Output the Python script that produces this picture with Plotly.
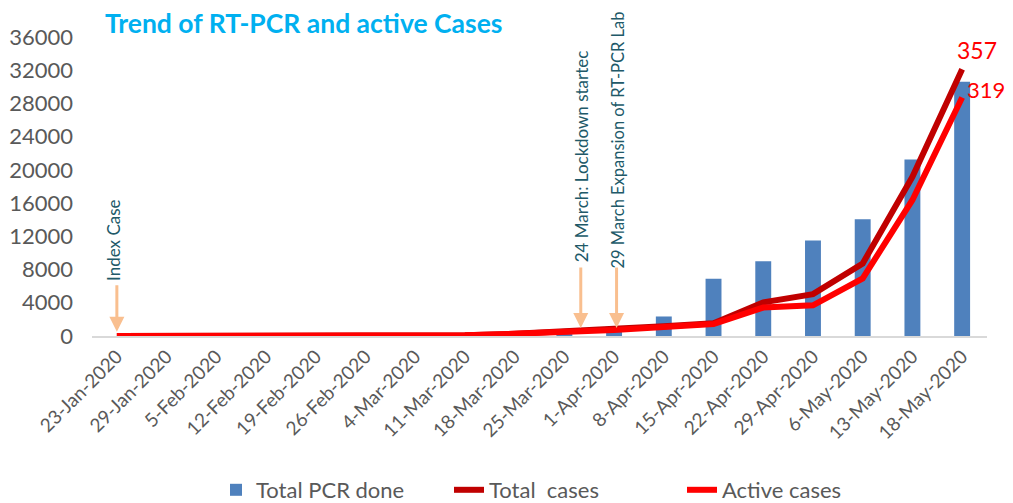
import plotly.graph_objects as go

categories = ["23-Jan-2020", "29-Jan-2020", "5-Feb-2020", "12-Feb-2020", "19-Feb-2020",
              "26-Feb-2020", "4-Mar-2020", "11-Mar-2020", "18-Mar-2020", "25-Mar-2020",
              "1-Apr-2020", "8-Apr-2020", "15-Apr-2020", "22-Apr-2020", "29-Apr-2020",
              "6-May-2020", "13-May-2020", "18-May-2020"]
pcr_done = [0, 0, 0, 0, 0, 0, 0, 50, 300, 600, 1100, 2350, 6900, 9000, 11500, 14050, 21250, 30600]
total_cases = [0, 0, 0, 0, 0, 0, 0, 1, 3, 6, 9, 13, 17, 45, 56, 97, 213, 357]
active_cases = [0, 0, 0, 0, 0, 0, 0, 1, 3, 5, 8, 12, 16, 38, 41, 77, 182, 319]
y_ticks = list(range(0, 36001, 4000))
y_tick_labels = [str(v) for v in y_ticks]

FONT = "Lato"
GREY = "#595959"
NOTE = "#215968"
PEACH = "#F9BF8F"

# the page places the figure 8px in from the top-left corner
OFF = 8
W, H = 1013 - OFF, 503 - OFF
plot_left, plot_right, plot_top, plot_bottom = 92 - OFF, 987 - OFF, 37 - OFF, 336 - OFF
ml, mr, mt, mb = plot_left, W - plot_right, plot_top, H - plot_bottom
pw, ph = W - ml - mr, H - mt - mb


def px_x(px):
    return (px - OFF - ml) / pw


def px_y(py):
    return (plot_bottom - (py - OFF)) / ph


fig = go.Figure()
fig.add_trace(go.Bar(x=categories, y=pcr_done, name="Total PCR done",
                     marker=dict(color="#4F81BD", line=dict(width=0))))
fig.add_trace(go.Scatter(x=categories, y=total_cases, name="Total  cases", yaxis="y2",
                         mode="lines", line=dict(color="#C00000", width=6)))
fig.add_trace(go.Scatter(x=categories, y=active_cases, name="Active cases", yaxis="y2",
                         mode="lines", line=dict(color="#FF0000", width=6)))

annotations = []
# arrows (no text)
for xi, tip, length in [(0, 500, 48), (9.33, 950, 62), (10.05, 950, 62)]:
    annotations.append(dict(x=xi, y=tip, xref="x", yref="y", text="", showarrow=True,
                            ax=0, ay=-length, arrowhead=2, arrowsize=1.0, arrowwidth=3,
                            arrowcolor=PEACH))
# rotated notes
for xi, ymid, txt, fs in [(-0.08, 11558, "Index Case", 17),
                          (9.35, 21612, "24 March: Lockdown startec", 17),
                          (10.07, 23600, "29 March Expansion of RT-PCR Lab", 16.5)]:
    annotations.append(dict(x=xi, y=ymid, xref="x", yref="y", text=txt, showarrow=False,
                            textangle=-90, xanchor="center", yanchor="middle",
                            font=dict(family=FONT, size=fs, color=NOTE)))
# end labels
annotations.append(dict(x=categories[-1], y=total_cases[-1], xref="x", yref="y2",
                        text=str(total_cases[-1]), showarrow=False, xshift=15, yshift=19,
                        font=dict(family=FONT, size=23, color="#FF0000")))
annotations.append(dict(x=categories[-1], y=active_cases[-1], xref="x", yref="y2",
                        text=str(active_cases[-1]), showarrow=False, xshift=24, yshift=8,
                        font=dict(family=FONT, size=22, color="#FF0000")))
# title
annotations.append(dict(x=px_x(103), y=px_y(23), xref="paper", yref="paper",
                        text="<b>Trend of RT-PCR and active Cases</b>",
                        showarrow=False, xanchor="left", yanchor="middle",
                        font=dict(family=FONT, size=26.5, color="#00B0F0")))

fig.update_layout(
    width=W, height=H,
    margin=dict(l=ml, r=mr, t=mt, b=mb, autoexpand=False),
    plot_bgcolor="white", paper_bgcolor="white",
    bargap=0.68,
    font=dict(family=FONT, color=GREY),
    xaxis=dict(type="category", tickangle=-45, tickfont=dict(family=FONT, size=19, color=GREY),
               showline=True, linecolor="#D9D9D9", linewidth=2, showgrid=False, ticks="",
               range=[-0.5, 17.5], automargin=False),
    yaxis=dict(range=[0, 36000], tickvals=y_ticks, ticktext=y_tick_labels, showgrid=False,
               zeroline=False, tickfont=dict(family=FONT, size=22, color=GREY),
               ticklabelstandoff=18, showline=False, automargin=False),
    yaxis2=dict(range=[0, 400], overlaying="y", visible=False, showgrid=False),
    legend=dict(orientation="h", x=px_x(216), xanchor="left", y=px_y(490),
                yanchor="middle", font=dict(family=FONT, size=22, color=GREY),
                entrywidth=188, entrywidthmode="pixels"),
    annotations=annotations,
    showlegend=True,
)

fig.write_html("out.html")
